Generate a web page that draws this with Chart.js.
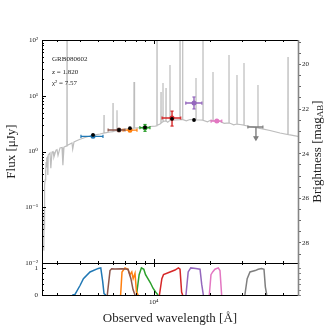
<!DOCTYPE html>
<html>
<head>
<meta charset="utf-8">
<script src="https://cdn.jsdelivr.net/npm/chart.js@4.4.0/dist/chart.umd.min.js"></script>
<style>
  html, body { margin: 0; padding: 0; background: #fff; }
  #wrap { position: relative; width: 332px; height: 332px; }
  #wrap canvas { position: absolute; left: 0; top: 0; }
</style>
</head>
<body>
<div id="wrap">
  <canvas id="sed" width="332" height="332"></canvas>
  <canvas id="filt" width="332" height="332"></canvas>
</div>
<script>
var FONT = '"Liberation Serif", "DejaVu Serif", serif';
var TXT = '#222';

// model spectrum (observed wavelength in A, flux in uJy)
var specWave = [2548, 2554, 2560, 2566, 2572, 2578, 2584, 2592, 2600, 2612, 2622, 2632, 2645, 2660, 2680, 2688, 2700, 2761, 2790, 2830, 2866,
  2900, 2975, 3012, 3050, 3126, 3205, 3240, 3285, 3368, 3405, 3411, 3417, 3453, 3628, 3660, 3720, 3814, 4008,
  4264, 4538, 4829, 5138, 5390, 5398, 5406, 5466, 5816, 6028, 6036, 6044, 6187, 6335, 6343, 6351, 6584, 7004,
  7453, 7824, 7834, 7844, 7931, 8439, 8980, 9555, 10167, 10410, 10423, 10436, 10817, 10940, 10953, 10966,
  11215, 11228, 11241, 11510, 11640, 11655, 11670, 11900, 12230, 12246, 12262, 13032, 13850, 13868, 13886, 14315,
  14334, 14353, 15000, 15701, 16890, 16912, 16934, 17771, 18420, 18446, 18472, 19500, 20124, 20860, 20887, 20914, 22785,
  24000, 25440, 25476, 25512, 25794, 27000, 28090, 28131, 28172, 29197, 30650, 30691, 30732, 33064, 36450, 36504, 36558,
  37424, 42374, 47973, 52920, 52996, 53072, 54325, 59998];
var specFlux = [0.017, 0.045, 0.021, 0.08, 0.04, 0.14, 0.09, 0.25, 0.31, 0.47, 0.40, 0.65, 0.52, 0.76, 0.80, 0.38, 0.87, 0.94, 0.50, 0.97, 0.99,
  0.80, 1.06, 1.08, 0.85, 1.16, 1.18, 0.57, 1.20, 1.25, 1.26, 300, 1.28, 1.31, 1.42, 1.10, 1.48, 1.54, 1.66,
  1.78, 1.90, 1.98, 2.06, 2.14, 4.5, 2.14, 2.16, 2.24, 2.27, 7.4, 2.28, 2.33, 2.38, 5.5, 2.38, 2.43, 2.53,
  2.59, 2.63, 17.7, 2.63, 2.64, 2.69, 2.75, 2.81, 2.86, 2.90, 300, 2.95, 3.11, 3.20, 11.7, 3.25,
  3.42, 16.9, 3.45, 3.52, 3.53, 13.8, 3.54, 3.35, 3.59, 35.6, 3.60, 3.67, 3.72, 300, 3.73, 3.74,
  300, 3.75, 3.55, 3.75, 3.70, 20.8, 3.70, 3.67, 3.65, 300, 3.64, 3.40, 3.60, 3.57, 26.7, 3.56, 3.45,
  3.20, 3.25, 53.8, 3.24, 3.22, 3.00, 3.11, 23.6, 3.10, 3.05, 2.97, 38.7, 2.96, 2.81, 2.66, 15.6, 2.65,
  2.60, 2.38, 2.15, 2.02, 49.5, 2.02, 1.98, 1.86];

// photometry
var bandColors = ['#1f77b4', '#8c564b', '#ff7f0e', '#2ca02c', '#d62728', '#9467bd', '#e377c2', '#7f7f7f'];
var bandWave = [4710, 6500, 7450, 8980, 12560, 16500, 21900, 35600];
var bandLo = [4055, 5680, 6840, 8430, 11100, 14900, 20400, 32200];
var bandHi = [5330, 7000, 8130, 9550, 14000, 18200, 23300, 38800];
var bandFlux = [1.87, 2.43, 2.42, 2.67, 3.99, 7.4, 3.52, 2.75];
var bandFluxLo = [1.81, 2.37, 2.25, 2.30, 2.86, 5.8, 3.42, 1.75];
var bandFluxHi = [1.93, 2.49, 2.58, 3.05, 5.30, 9.5, 3.62, 2.75];
var bandLimit = [false, false, false, false, false, false, false, true];
var modelFlux = [1.98, 2.43, 2.62, 2.70, 3.85, 3.67, null, null];

// filter transmission curves [wavelength, throughput]
var filtBlue = [[3640, 0], [3765, 0.02], [4008, 0.35], [4180, 0.6], [4538, 0.85], [5030, 0.98], [5185, 1.0], [5310, 0.5], [5398, 0.05], [5530, 0]];
var filtBrown = [[5623, 0], [5816, 0.9], [5937, 0.97], [6187, 0.96], [6750, 0.97], [7270, 0.95], [7540, 0.6], [7740, 0.2], [7931, 0]];
var filtOrange = [[6635, 0], [6750, 0.85], [7004, 1.0], [7270, 0.95], [7453, 0.75], [7620, 0.85], [7750, 0.6], [7931, 0.8], [8080, 0.1], [8260, 0]];
var filtGreen = [[8080, 0], [8350, 0.75], [8590, 1.0], [8850, 0.95], [9040, 0.75], [9310, 0.6], [9600, 0.45], [9920, 0.25], [10260, 0.1], [10560, 0]];
var filtRed = [[10740, 0], [11070, 0.6], [11300, 0.75], [12250, 0.85], [13030, 0.92], [13590, 1.0], [13870, 0.95], [14150, 0.1], [14330, 0]];
var filtPurple = [[14930, 0], [15350, 0.85], [15850, 1.0], [16860, 0.98], [17780, 0.95], [18150, 0.4], [18530, 0]];
var filtPink = [[19950, 0], [20370, 0.75], [20800, 0.85], [21400, 0.95], [22300, 1.0], [22780, 0.9], [23250, 0]];
var filtGray = [[31020, 0], [31930, 0.6], [33060, 0.85], [35250, 0.9], [36610, 0.95], [38170, 0.98], [39340, 0.95], [40000, 0.3], [40700, 0]];
var filters = [filtBlue, filtBrown, filtOrange, filtGreen, filtRed, filtPurple, filtPink, filtGray];

// axis ticks
var fluxTicks = [0.01, 0.1, 1, 10, 100];
var fluxLabels = ['10\u207B\u00B2', '10\u207B\u00B9', '10\u2070', '10\u00B9', '10\u00B2'];
var magTicks = [19, 19.5, 20, 20.5, 21, 21.5, 22, 22.5, 23, 23.5, 24, 24.5, 25, 25.5, 26, 26.5, 27, 27.5, 28, 28.5];
var waveMajor = [10000];
var waveLabels = ['10\u2074'];
var waveMinor = [3000, 4000, 5000, 6000, 7000, 8000, 9000, 20000, 30000, 40000, 50000, 60000];
var transTicks = [0, 1];
var transMinor = [0.2, 0.4, 0.6, 0.8];

var fluxMinor = [];
[0.01, 0.1, 1, 10].forEach(function (d) {
  for (var k = 2; k <= 9; k++) fluxMinor.push(d * k);
});

// inward ticks and the frame
var framePlugin = {
  id: 'frame',
  afterDraw: function (chart, args, o) {
    var ca = chart.chartArea, c = chart.ctx;
    var x = chart.scales.x, y = chart.scales.y;
    c.save();
    c.strokeStyle = '#000';
    c.lineWidth = 1;
    c.beginPath();
    function xt(v, len) {
      var px = Math.round(x.getPixelForValue(v)) + 0.5;
      c.moveTo(px, ca.top); c.lineTo(px, ca.top + len);
      c.moveTo(px, ca.bottom); c.lineTo(px, ca.bottom - len);
    }
    function yt(v, len) {
      var py = Math.round(y.getPixelForValue(v)) + 0.5;
      c.moveTo(ca.left, py); c.lineTo(ca.left + len, py);
    }
    waveMajor.forEach(function (v) { xt(v, 4); });
    waveMinor.forEach(function (v) { xt(v, 2); });
    o.yMajor.forEach(function (v) { yt(v, 4); });
    o.yMinor.forEach(function (v) { yt(v, 2); });
    c.stroke();
    c.beginPath();
    c.moveTo(ca.right, ca.top + 0.5);
    c.lineTo(ca.left + 0.5, ca.top + 0.5);
    c.lineTo(ca.left + 0.5, ca.bottom + 0.5);
    c.lineTo(ca.right, ca.bottom + 0.5);
    c.stroke();
    c.strokeStyle = '#858585';
    c.lineWidth = 1.6;
    c.beginPath();
    c.moveTo(ca.right + 0.5, ca.top);
    c.lineTo(ca.right + 0.5, ca.bottom + 1);
    c.stroke();
    if (o.rightTicks) {
      c.lineWidth = 1;
      c.beginPath();
      o.rightTicks.forEach(function (v) {
        var py = Math.round(y.getPixelForValue(v)) + 0.5;
        c.moveTo(ca.right, py); c.lineTo(ca.right + 3, py);
      });
      c.stroke();
    }
    c.restore();
  }
};

var notePlugin = {
  id: 'notes',
  afterDraw: function (chart) {
    var ca = chart.chartArea, c = chart.ctx;
    c.save();
    c.fillStyle = TXT;
    c.textBaseline = 'middle';
    c.font = '7px ' + FONT;
    c.fillText('GRB080602', ca.left + 10, ca.top + 19);
    c.fillText('z = 1.820', ca.left + 10, ca.top + 32);
    c.fillText('\u03C7\u00B2 = 7.57', ca.left + 10, ca.top + 43);
    // right axis title, read bottom to top
    c.translate(318, (ca.top + ca.bottom) / 2);
    c.rotate(-Math.PI / 2);
    c.font = '13px ' + FONT;
    var a = 'Brightness [mag', sub = 'AB', b = ']';
    var wa = c.measureText(a).width;
    c.font = '9px ' + FONT;
    var ws = c.measureText(sub).width;
    c.font = '13px ' + FONT;
    var wb = c.measureText(b).width;
    var x0 = -(wa + ws + wb) / 2;
    c.fillText(a, x0, 0);
    c.font = '9px ' + FONT;
    c.fillText(sub, x0 + wa, 3);
    c.font = '13px ' + FONT;
    c.fillText(b, x0 + wa + ws, 0);
    c.restore();
  }
};

// datasets for the SED panel
var sedSets = [{
  data: specWave.map(function (w, i) { return { x: w, y: specFlux[i] }; }),
  showLine: true,
  borderColor: '#bdbdbd',
  borderWidth: 1.2,
  pointRadius: 0,
  order: 5
}];

bandWave.forEach(function (w, i) {
  var col = bandColors[i];
  var pts, styles, radii, rots;
  if (bandLimit[i]) {
    pts = [{ x: bandLo[i], y: bandFlux[i] }, { x: bandHi[i], y: bandFlux[i] }, { x: w, y: null },
      { x: w, y: bandFlux[i] }, { x: w, y: bandFluxLo[i] }];
    styles = ['line', 'line', false, false, 'triangle'];
    radii = [1.6, 1.6, 0, 0, 2.2];
    rots = [90, 90, 0, 0, 180];
  } else {
    pts = [{ x: bandLo[i], y: bandFlux[i] }, { x: bandHi[i], y: bandFlux[i] }, { x: w, y: null },
      { x: w, y: bandFluxLo[i] }, { x: w, y: bandFluxHi[i] }];
    styles = ['line', 'line', false, 'line', 'line'];
    radii = [1.6, 1.6, 0, 1.6, 1.6];
    rots = [90, 90, 0, 0, 0];
  }
  sedSets.push({
    data: pts,
    showLine: true,
    spanGaps: false,
    borderColor: col,
    borderWidth: 1.4,
    pointStyle: styles,
    pointRadius: radii,
    pointRotation: rots,
    pointBorderColor: col,
    pointBackgroundColor: col,
    pointBorderWidth: 1.2,
    order: 3
  });
});

var markerIdx = bandWave.map(function (w, i) { return i; }).filter(function (i) { return !bandLimit[i]; });
sedSets.push({
  data: markerIdx.map(function (i) { return { x: bandWave[i], y: bandFlux[i] }; }),
  pointStyle: 'circle',
  pointRadius: 2.5,
  pointBackgroundColor: markerIdx.map(function (i) { return bandColors[i]; }),
  pointBorderColor: markerIdx.map(function (i) { return bandColors[i]; }),
  pointBorderWidth: 0,
  showLine: false,
  order: 2
});
sedSets.push({
  data: bandWave.map(function (w, i) { return { x: w, y: modelFlux[i] }; }),
  pointStyle: 'circle',
  pointRadius: 1.9,
  pointBackgroundColor: '#000',
  pointBorderColor: '#000',
  pointBorderWidth: 0,
  showLine: false,
  order: 1
});

new Chart(document.getElementById('sed'), {
  type: 'scatter',
  data: { datasets: sedSets },
  options: {
    responsive: false,
    animation: false,
    events: [],
    layout: { padding: { left: 0, right: 0, top: 40, bottom: 69 } },
    plugins: {
      legend: { display: false },
      tooltip: { enabled: false },
      frame: { yMajor: fluxTicks, yMinor: fluxMinor }
    },
    scales: {
      x: { type: 'logarithmic', min: 2500, max: 60000, display: false },
      y: {
        type: 'logarithmic',
        position: 'left',
        min: 0.01,
        max: 100,
        afterBuildTicks: function (s) { s.ticks = fluxTicks.map(function (v) { return { value: v }; }); },
        afterFit: function (s) { s.width = 42; },
        grid: { display: false, drawTicks: false },
        border: { display: false },
        ticks: {
          autoSkip: false,
          padding: 4,
          color: TXT,
          font: { family: FONT, size: 7 },
          callback: function (v) { return fluxLabels[fluxTicks.indexOf(v)]; }
        },
        title: {
          display: true,
          text: 'Flux [\u03BCJy]',
          color: TXT,
          font: { family: FONT, size: 13 },
          padding: { top: 4, bottom: 0 }
        }
      },
      mag: {
        type: 'linear',
        position: 'right',
        reverse: true,
        min: 18.9,
        max: 28.9,
        afterBuildTicks: function (s) { s.ticks = magTicks.map(function (v) { return { value: v }; }); },
        afterFit: function (s) { s.width = 34; },
        grid: { display: true, drawOnChartArea: false, drawTicks: true, tickLength: 3, tickColor: '#666', tickWidth: 1 },
        border: { display: false },
        ticks: {
          autoSkip: false,
          padding: 1,
          color: TXT,
          font: { family: FONT, size: 7 },
          callback: function (v) { return v % 2 === 0 ? String(v) : ''; }
        }
      }
    }
  },
  plugins: [framePlugin, notePlugin]
});

// filter panel
new Chart(document.getElementById('filt'), {
  type: 'scatter',
  data: {
    datasets: filters.map(function (f, i) {
      return {
        data: f.map(function (p) { return { x: p[0], y: p[1] }; }),
        showLine: true,
        borderColor: bandColors[i],
        borderWidth: 1.5,
        pointRadius: 0
      };
    })
  },
  options: {
    responsive: false,
    animation: false,
    events: [],
    layout: { padding: { left: 0, right: 34, top: 263, bottom: 0 } },
    plugins: {
      legend: { display: false },
      tooltip: { enabled: false },
      frame: { yMajor: transTicks, yMinor: transMinor, rightTicks: transTicks.concat(transMinor) }
    },
    scales: {
      x: {
        type: 'logarithmic',
        min: 2500,
        max: 60000,
        position: 'bottom',
        afterBuildTicks: function (s) { s.ticks = waveMajor.map(function (v) { return { value: v }; }); },
        afterFit: function (s) { s.height = 37; },
        grid: { display: false, drawTicks: false },
        border: { display: false },
        ticks: {
          autoSkip: false,
          maxRotation: 0,
          padding: 3,
          color: TXT,
          font: { family: FONT, size: 7 },
          callback: function (v) { return waveLabels[waveMajor.indexOf(v)]; }
        },
        title: {
          display: true,
          text: 'Observed wavelength [\u00C5]',
          color: TXT,
          font: { family: FONT, size: 13 },
          padding: { top: 0, bottom: 6 }
        }
      },
      y: {
        type: 'linear',
        min: 0,
        max: 1.18,
        afterBuildTicks: function (s) { s.ticks = transTicks.map(function (v) { return { value: v }; }); },
        afterFit: function (s) { s.width = 42; },
        grid: { display: false, drawTicks: false },
        border: { display: false },
        ticks: {
          autoSkip: false,
          padding: 4,
          color: TXT,
          font: { family: FONT, size: 7 }
        }
      }
    }
  },
  plugins: [framePlugin]
});
</script>
</body>
</html>
